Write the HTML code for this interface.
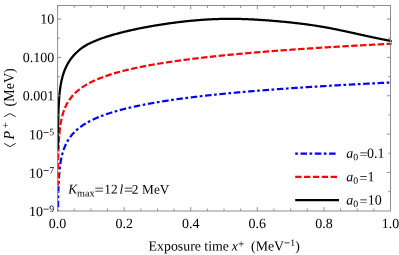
<!DOCTYPE html>
<html><head><meta charset="utf-8"><style>
html,body{margin:0;padding:0;background:#fff;}
svg{display:block}
text{font-family:"Liberation Serif",serif;fill:#000;}
.i{font-style:italic}
</style></head><body>
<svg width="399" height="255" viewBox="0 0 399 255">
<rect width="399" height="255" fill="#fff"/>
<defs><clipPath id="c"><rect x="56.6" y="5.5" width="335.09999999999997" height="205.5"/></clipPath></defs>
<g clip-path="url(#c)" fill="none" stroke-linejoin="round"><g transform="translate(0.3,0)">
<path d="M57.74,211.46 L57.75,210.86 L57.75,210.27 L57.76,209.67 L57.76,209.07 L57.77,208.48 L57.77,207.88 L57.78,207.28 L57.79,206.69 L57.79,206.09 L57.80,205.50 L57.81,204.90 L57.82,204.30 L57.82,203.71 L57.83,203.11 L57.84,202.51 L57.85,201.92 L57.86,201.32 L57.87,200.73 L57.88,200.13 L57.89,199.53 L57.90,198.94 L57.91,198.34 L57.92,197.74 L57.93,197.15 L57.94,196.55 L57.96,195.96 L57.97,195.36 L57.98,194.76 L58.00,194.17 L58.01,193.57 L58.03,192.97 L58.04,192.38 L58.06,191.78 L58.08,191.19 L58.09,190.59 L58.11,189.99 L58.13,189.40 L58.15,188.80 L58.17,188.21 L58.19,187.61 L58.21,187.01 L58.23,186.42 L58.26,185.82 L58.28,185.22 L58.31,184.63 L58.33,184.03 L58.36,183.44 L58.39,182.84 L58.41,182.24 L58.44,181.65 L58.47,181.05 L58.51,180.45 L58.54,179.86 L58.57,179.26 L58.61,178.67 L58.65,178.07 L58.68,177.47 L58.72,176.88 L58.77,176.28 L58.81,175.68 L58.85,175.09 L58.90,174.49 L58.94,173.90 L58.99,173.30 L59.04,172.70 L59.10,172.11 L59.15,171.51 L59.21,170.91 L59.27,170.32 L59.33,169.72 L59.39,169.13 L59.46,168.53 L59.52,167.93 L59.59,167.34 L59.67,166.74 L59.74,166.14 L59.82,165.55 L59.90,164.95 L59.98,164.36 L60.07,163.76 L60.16,163.16 L60.25,162.57 L60.35,161.97 L60.45,161.37 L60.56,160.78 L60.66,160.18 L60.78,159.59 L60.89,158.99 L61.01,158.39 L61.14,157.80 L61.26,157.20 L61.40,156.60 L61.54,156.01 L61.68,155.41 L61.83,154.82 L61.98,154.22 L62.14,153.62 L62.31,153.03 L62.48,152.43 L62.66,151.83 L62.84,151.24 L63.03,150.64 L63.23,150.05 L63.44,149.45 L63.65,148.85 L63.87,148.26 L64.10,147.66 L64.34,147.06 L64.58,146.47 L64.84,145.87 L65.10,145.28 L65.37,144.68 L65.66,144.08 L65.95,143.49 L66.25,142.89 L66.57,142.29 L66.90,141.70 L67.24,141.10 L67.59,140.51 L68.40,139.20 L69.21,137.99 L70.03,136.87 L70.84,135.81 L71.65,134.82 L72.47,133.88 L73.28,133.00 L74.09,132.15 L74.90,131.35 L75.72,130.59 L76.53,129.86 L77.34,129.16 L78.16,128.49 L78.97,127.84 L79.78,127.22 L80.60,126.62 L81.41,126.04 L82.22,125.48 L83.04,124.94 L83.85,124.42 L84.66,123.91 L85.47,123.41 L86.29,122.94 L87.10,122.47 L87.91,122.02 L88.73,121.58 L89.54,121.15 L90.35,120.73 L91.17,120.32 L91.98,119.92 L92.79,119.53 L93.60,119.15 L94.42,118.78 L95.23,118.42 L96.04,118.06 L96.86,117.71 L97.67,117.37 L98.48,117.04 L99.30,116.71 L100.11,116.39 L100.92,116.07 L101.74,115.76 L102.55,115.46 L103.36,115.16 L104.17,114.87 L104.99,114.58 L105.80,114.30 L106.61,114.02 L107.43,113.74 L108.24,113.47 L109.05,113.21 L109.87,112.95 L110.68,112.69 L111.49,112.44 L112.31,112.19 L113.12,111.94 L113.93,111.70 L114.74,111.46 L115.56,111.23 L116.37,110.99 L117.18,110.77 L118.00,110.54 L118.81,110.32 L119.62,110.10 L120.44,109.88 L121.25,109.67 L122.06,109.46 L122.88,109.25 L123.69,109.04 L124.50,108.84 L125.31,108.64 L126.13,108.44 L126.94,108.24 L127.75,108.05 L128.57,107.85 L129.38,107.66 L130.19,107.48 L131.01,107.29 L131.82,107.11 L132.63,106.93 L133.44,106.75 L134.26,106.57 L135.07,106.39 L135.88,106.22 L136.70,106.05 L137.51,105.88 L138.32,105.71 L139.14,105.54 L139.95,105.38 L140.76,105.21 L141.58,105.05 L142.39,104.89 L143.20,104.73 L144.01,104.58 L144.83,104.42 L145.64,104.26 L146.45,104.11 L147.27,103.96 L148.08,103.81 L148.89,103.66 L149.71,103.51 L150.52,103.37 L151.33,103.22 L152.15,103.08 L152.96,102.94 L153.77,102.79 L154.58,102.65 L155.40,102.51 L156.21,102.38 L157.02,102.24 L157.84,102.10 L158.65,101.97 L159.46,101.84 L160.28,101.70 L161.09,101.57 L161.90,101.44 L162.72,101.31 L163.53,101.19 L164.34,101.06 L165.15,100.93 L165.97,100.81 L166.78,100.68 L167.59,100.56 L168.41,100.44 L169.22,100.31 L170.03,100.19 L170.85,100.07 L171.66,99.95 L172.47,99.84 L173.28,99.72 L174.10,99.60 L174.91,99.49 L175.72,99.37 L176.54,99.26 L177.35,99.14 L178.16,99.03 L178.98,98.92 L179.79,98.81 L180.60,98.70 L181.42,98.59 L182.23,98.48 L183.04,98.37 L183.85,98.26 L184.67,98.16 L185.48,98.05 L186.29,97.94 L187.11,97.84 L187.92,97.73 L188.73,97.63 L189.55,97.53 L190.36,97.43 L191.17,97.32 L191.99,97.22 L192.80,97.12 L193.61,97.02 L194.42,96.92 L195.24,96.82 L196.05,96.73 L196.86,96.63 L197.68,96.53 L198.49,96.44 L199.30,96.34 L200.12,96.24 L200.93,96.15 L201.74,96.06 L202.56,95.96 L203.37,95.87 L204.18,95.78 L204.99,95.68 L205.81,95.59 L206.62,95.50 L207.43,95.41 L208.25,95.32 L209.06,95.23 L209.87,95.15 L210.69,95.06 L211.50,94.97 L212.31,94.89 L213.12,94.80 L213.94,94.72 L214.75,94.63 L215.56,94.55 L216.38,94.46 L217.19,94.38 L218.00,94.30 L218.82,94.22 L219.63,94.13 L220.44,94.05 L221.26,93.97 L222.07,93.89 L222.88,93.81 L223.69,93.73 L224.51,93.65 L225.32,93.57 L226.13,93.49 L226.95,93.41 L227.76,93.34 L228.57,93.26 L229.39,93.18 L230.20,93.10 L231.01,93.03 L231.83,92.95 L232.64,92.88 L233.45,92.80 L234.26,92.72 L235.08,92.65 L235.89,92.58 L236.70,92.50 L237.52,92.43 L238.33,92.35 L239.14,92.28 L239.96,92.21 L240.77,92.14 L241.58,92.06 L242.39,91.99 L243.21,91.92 L244.02,91.85 L244.83,91.78 L245.65,91.71 L246.46,91.64 L247.27,91.57 L248.09,91.50 L248.90,91.43 L249.71,91.36 L250.53,91.29 L251.34,91.22 L252.15,91.16 L252.96,91.09 L253.78,91.02 L254.59,90.95 L255.40,90.89 L256.22,90.82 L257.03,90.75 L257.84,90.69 L258.66,90.62 L259.47,90.56 L260.28,90.49 L261.10,90.43 L261.91,90.36 L262.72,90.30 L263.53,90.23 L264.35,90.17 L265.16,90.11 L265.97,90.04 L266.79,89.98 L267.60,89.92 L268.41,89.85 L269.23,89.79 L270.04,89.73 L270.85,89.67 L271.67,89.61 L272.48,89.54 L273.29,89.48 L274.10,89.42 L274.92,89.36 L275.73,89.30 L276.54,89.24 L277.36,89.18 L278.17,89.12 L278.98,89.06 L279.80,89.00 L280.61,88.94 L281.42,88.88 L282.23,88.83 L283.05,88.77 L283.86,88.71 L284.67,88.65 L285.49,88.59 L286.30,88.54 L287.11,88.48 L287.93,88.42 L288.74,88.36 L289.55,88.31 L290.37,88.25 L291.18,88.19 L291.99,88.14 L292.80,88.08 L293.62,88.03 L294.43,87.97 L295.24,87.92 L296.06,87.86 L296.87,87.81 L297.68,87.75 L298.50,87.70 L299.31,87.64 L300.12,87.59 L300.94,87.53 L301.75,87.48 L302.56,87.43 L303.37,87.37 L304.19,87.32 L305.00,87.27 L305.81,87.21 L306.63,87.16 L307.44,87.11 L308.25,87.06 L309.07,87.00 L309.88,86.95 L310.69,86.90 L311.51,86.85 L312.32,86.80 L313.13,86.74 L313.94,86.69 L314.76,86.64 L315.57,86.59 L316.38,86.54 L317.20,86.49 L318.01,86.44 L318.82,86.39 L319.64,86.34 L320.45,86.29 L321.26,86.24 L322.07,86.19 L322.89,86.14 L323.70,86.09 L324.51,86.04 L325.33,85.99 L326.14,85.95 L326.95,85.90 L327.77,85.85 L328.58,85.80 L329.39,85.75 L330.21,85.70 L331.02,85.66 L331.83,85.61 L332.64,85.56 L333.46,85.51 L334.27,85.47 L335.08,85.42 L335.90,85.37 L336.71,85.32 L337.52,85.28 L338.34,85.23 L339.15,85.19 L339.96,85.14 L340.78,85.09 L341.59,85.05 L342.40,85.00 L343.21,84.95 L344.03,84.91 L344.84,84.86 L345.65,84.82 L346.47,84.77 L347.28,84.73 L348.09,84.68 L348.91,84.64 L349.72,84.59 L350.53,84.55 L351.35,84.50 L352.16,84.46 L352.97,84.42 L353.78,84.37 L354.60,84.33 L355.41,84.28 L356.22,84.24 L357.04,84.20 L357.85,84.15 L358.66,84.11 L359.48,84.07 L360.29,84.02 L361.10,83.98 L361.91,83.94 L362.73,83.90 L363.54,83.85 L364.35,83.81 L365.17,83.77 L365.98,83.73 L366.79,83.68 L367.61,83.64 L368.42,83.60 L369.23,83.56 L370.05,83.52 L370.86,83.47 L371.67,83.43 L372.48,83.39 L373.30,83.35 L374.11,83.31 L374.92,83.27 L375.74,83.22 L376.55,83.18 L377.36,83.14 L378.18,83.10 L378.99,83.05 L379.80,83.01 L380.62,82.97 L381.43,82.93 L382.24,82.89 L383.05,82.85 L383.87,82.80 L384.68,82.76 L385.49,82.72 L386.31,82.68 L387.12,82.64 L387.93,82.60 L388.75,82.56 L389.56,82.52 L390.37,82.47 L391.18,82.43 L392.00,82.39" stroke="#0000ff" stroke-width="2.2" stroke-dasharray="2.7 2.65 6.55 2.52" stroke-dashoffset="1.1"/>
<path d="M57.67,185.58 L57.67,184.88 L57.67,184.18 L57.68,183.48 L57.68,182.78 L57.68,182.07 L57.69,181.37 L57.69,180.67 L57.69,179.97 L57.70,179.27 L57.70,178.57 L57.71,177.87 L57.71,177.17 L57.72,176.47 L57.72,175.77 L57.73,175.06 L57.73,174.36 L57.74,173.66 L57.74,172.96 L57.75,172.26 L57.75,171.56 L57.76,170.86 L57.77,170.16 L57.78,169.46 L57.78,168.76 L57.79,168.06 L57.80,167.35 L57.81,166.65 L57.82,165.95 L57.83,165.25 L57.84,164.55 L57.85,163.85 L57.86,163.15 L57.87,162.45 L57.88,161.75 L57.89,161.05 L57.90,160.34 L57.92,159.64 L57.93,158.94 L57.94,158.24 L57.96,157.54 L57.97,156.84 L57.99,156.14 L58.01,155.44 L58.02,154.74 L58.04,154.04 L58.06,153.34 L58.08,152.63 L58.10,151.93 L58.12,151.23 L58.15,150.53 L58.17,149.83 L58.19,149.13 L58.22,148.43 L58.25,147.73 L58.28,147.03 L58.30,146.33 L58.33,145.62 L58.37,144.92 L58.40,144.22 L58.43,143.52 L58.47,142.82 L58.51,142.12 L58.55,141.42 L58.59,140.72 L58.63,140.02 L58.67,139.32 L58.72,138.62 L58.77,137.91 L58.82,137.21 L58.87,136.51 L58.92,135.81 L58.98,135.11 L59.04,134.41 L59.10,133.71 L59.17,133.01 L59.23,132.31 L59.30,131.61 L59.38,130.90 L59.45,130.20 L59.53,129.50 L59.62,128.80 L59.70,128.10 L59.79,127.40 L59.89,126.70 L59.99,126.00 L60.09,125.30 L60.20,124.60 L60.31,123.90 L60.42,123.19 L60.55,122.49 L60.67,121.79 L60.80,121.09 L60.94,120.39 L61.09,119.69 L61.24,118.99 L61.39,118.29 L61.56,117.59 L61.73,116.89 L61.90,116.18 L62.09,115.48 L62.28,114.78 L62.48,114.08 L62.69,113.38 L62.91,112.68 L63.14,111.98 L63.38,111.28 L63.63,110.58 L63.89,109.88 L64.16,109.18 L64.44,108.47 L64.73,107.77 L65.04,107.07 L65.36,106.37 L65.69,105.67 L66.04,104.97 L66.40,104.27 L66.78,103.57 L67.18,102.87 L67.59,102.17 L68.40,100.86 L69.21,99.65 L70.03,98.53 L70.84,97.47 L71.65,96.48 L72.47,95.54 L73.28,94.66 L74.09,93.81 L74.90,93.01 L75.72,92.25 L76.53,91.52 L77.34,90.82 L78.16,90.15 L78.97,89.50 L79.78,88.88 L80.60,88.28 L81.41,87.70 L82.22,87.14 L83.04,86.60 L83.85,86.08 L84.66,85.57 L85.47,85.07 L86.29,84.60 L87.10,84.13 L87.91,83.68 L88.73,83.24 L89.54,82.81 L90.35,82.39 L91.17,81.98 L91.98,81.58 L92.79,81.19 L93.60,80.81 L94.42,80.44 L95.23,80.08 L96.04,79.72 L96.86,79.37 L97.67,79.03 L98.48,78.70 L99.30,78.37 L100.11,78.05 L100.92,77.73 L101.74,77.42 L102.55,77.12 L103.36,76.82 L104.17,76.53 L104.99,76.24 L105.80,75.96 L106.61,75.68 L107.43,75.40 L108.24,75.13 L109.05,74.87 L109.87,74.61 L110.68,74.35 L111.49,74.10 L112.31,73.85 L113.12,73.60 L113.93,73.36 L114.74,73.12 L115.56,72.89 L116.37,72.65 L117.18,72.43 L118.00,72.20 L118.81,71.98 L119.62,71.76 L120.44,71.54 L121.25,71.33 L122.06,71.12 L122.88,70.91 L123.69,70.70 L124.50,70.50 L125.31,70.30 L126.13,70.10 L126.94,69.90 L127.75,69.71 L128.57,69.51 L129.38,69.32 L130.19,69.14 L131.01,68.95 L131.82,68.77 L132.63,68.59 L133.44,68.41 L134.26,68.23 L135.07,68.05 L135.88,67.88 L136.70,67.71 L137.51,67.54 L138.32,67.37 L139.14,67.20 L139.95,67.04 L140.76,66.87 L141.58,66.71 L142.39,66.55 L143.20,66.39 L144.01,66.24 L144.83,66.08 L145.64,65.92 L146.45,65.77 L147.27,65.62 L148.08,65.47 L148.89,65.32 L149.71,65.17 L150.52,65.03 L151.33,64.88 L152.15,64.74 L152.96,64.60 L153.77,64.45 L154.58,64.31 L155.40,64.17 L156.21,64.04 L157.02,63.90 L157.84,63.76 L158.65,63.63 L159.46,63.50 L160.28,63.36 L161.09,63.23 L161.90,63.10 L162.72,62.97 L163.53,62.85 L164.34,62.72 L165.15,62.59 L165.97,62.47 L166.78,62.34 L167.59,62.22 L168.41,62.10 L169.22,61.97 L170.03,61.85 L170.85,61.73 L171.66,61.61 L172.47,61.50 L173.28,61.38 L174.10,61.26 L174.91,61.15 L175.72,61.03 L176.54,60.92 L177.35,60.80 L178.16,60.69 L178.98,60.58 L179.79,60.47 L180.60,60.36 L181.42,60.25 L182.23,60.14 L183.04,60.03 L183.85,59.92 L184.67,59.82 L185.48,59.71 L186.29,59.60 L187.11,59.50 L187.92,59.39 L188.73,59.29 L189.55,59.19 L190.36,59.09 L191.17,58.98 L191.99,58.88 L192.80,58.78 L193.61,58.68 L194.42,58.58 L195.24,58.48 L196.05,58.39 L196.86,58.29 L197.68,58.19 L198.49,58.10 L199.30,58.00 L200.12,57.90 L200.93,57.81 L201.74,57.72 L202.56,57.62 L203.37,57.53 L204.18,57.44 L204.99,57.34 L205.81,57.25 L206.62,57.16 L207.43,57.07 L208.25,56.98 L209.06,56.89 L209.87,56.80 L210.69,56.71 L211.50,56.63 L212.31,56.54 L213.12,56.45 L213.94,56.36 L214.75,56.28 L215.56,56.19 L216.38,56.11 L217.19,56.02 L218.00,55.94 L218.82,55.85 L219.63,55.77 L220.44,55.68 L221.26,55.60 L222.07,55.52 L222.88,55.44 L223.69,55.36 L224.51,55.27 L225.32,55.19 L226.13,55.11 L226.95,55.03 L227.76,54.95 L228.57,54.87 L229.39,54.79 L230.20,54.72 L231.01,54.64 L231.83,54.56 L232.64,54.48 L233.45,54.41 L234.26,54.33 L235.08,54.25 L235.89,54.18 L236.70,54.10 L237.52,54.02 L238.33,53.95 L239.14,53.87 L239.96,53.80 L240.77,53.73 L241.58,53.65 L242.39,53.58 L243.21,53.51 L244.02,53.43 L244.83,53.36 L245.65,53.29 L246.46,53.22 L247.27,53.15 L248.09,53.07 L248.90,53.00 L249.71,52.93 L250.53,52.86 L251.34,52.79 L252.15,52.72 L252.96,52.65 L253.78,52.58 L254.59,52.51 L255.40,52.45 L256.22,52.38 L257.03,52.31 L257.84,52.24 L258.66,52.17 L259.47,52.11 L260.28,52.04 L261.10,51.97 L261.91,51.91 L262.72,51.84 L263.53,51.78 L264.35,51.71 L265.16,51.64 L265.97,51.58 L266.79,51.51 L267.60,51.45 L268.41,51.39 L269.23,51.32 L270.04,51.26 L270.85,51.19 L271.67,51.13 L272.48,51.07 L273.29,51.00 L274.10,50.94 L274.92,50.88 L275.73,50.82 L276.54,50.76 L277.36,50.69 L278.17,50.63 L278.98,50.57 L279.80,50.51 L280.61,50.45 L281.42,50.39 L282.23,50.33 L283.05,50.27 L283.86,50.21 L284.67,50.15 L285.49,50.09 L286.30,50.03 L287.11,49.97 L287.93,49.91 L288.74,49.85 L289.55,49.79 L290.37,49.74 L291.18,49.68 L291.99,49.62 L292.80,49.56 L293.62,49.51 L294.43,49.45 L295.24,49.39 L296.06,49.33 L296.87,49.28 L297.68,49.22 L298.50,49.16 L299.31,49.11 L300.12,49.05 L300.94,49.00 L301.75,48.94 L302.56,48.89 L303.37,48.83 L304.19,48.78 L305.00,48.72 L305.81,48.67 L306.63,48.61 L307.44,48.56 L308.25,48.50 L309.07,48.45 L309.88,48.40 L310.69,48.34 L311.51,48.29 L312.32,48.24 L313.13,48.18 L313.94,48.13 L314.76,48.08 L315.57,48.02 L316.38,47.97 L317.20,47.92 L318.01,47.87 L318.82,47.82 L319.64,47.76 L320.45,47.71 L321.26,47.66 L322.07,47.61 L322.89,47.56 L323.70,47.51 L324.51,47.46 L325.33,47.41 L326.14,47.36 L326.95,47.31 L327.77,47.26 L328.58,47.21 L329.39,47.16 L330.21,47.11 L331.02,47.06 L331.83,47.01 L332.64,46.96 L333.46,46.91 L334.27,46.86 L335.08,46.81 L335.90,46.76 L336.71,46.71 L337.52,46.66 L338.34,46.62 L339.15,46.57 L339.96,46.52 L340.78,46.47 L341.59,46.42 L342.40,46.38 L343.21,46.33 L344.03,46.28 L344.84,46.23 L345.65,46.19 L346.47,46.14 L347.28,46.09 L348.09,46.05 L348.91,46.00 L349.72,45.95 L350.53,45.91 L351.35,45.86 L352.16,45.82 L352.97,45.77 L353.78,45.72 L354.60,45.68 L355.41,45.63 L356.22,45.59 L357.04,45.54 L357.85,45.50 L358.66,45.45 L359.48,45.41 L360.29,45.36 L361.10,45.32 L361.91,45.27 L362.73,45.23 L363.54,45.18 L364.35,45.14 L365.17,45.10 L365.98,45.05 L366.79,45.01 L367.61,44.96 L368.42,44.92 L369.23,44.88 L370.05,44.83 L370.86,44.79 L371.67,44.75 L372.48,44.70 L373.30,44.66 L374.11,44.62 L374.92,44.58 L375.74,44.53 L376.55,44.49 L377.36,44.45 L378.18,44.41 L378.99,44.36 L379.80,44.32 L380.62,44.28 L381.43,44.24 L382.24,44.20 L383.05,44.16 L383.87,44.11 L384.68,44.07 L385.49,44.03 L386.31,43.99 L387.12,43.95 L387.93,43.91 L388.75,43.87 L389.56,43.83 L390.37,43.78 L391.18,43.74 L392.00,43.70" stroke="#ff0000" stroke-width="2.2" stroke-dasharray="6.4 2.46" stroke-dashoffset="1.35"/>
<path d="M57.66,149.15 L57.66,148.43 L57.66,147.71 L57.67,147.00 L57.67,146.28 L57.67,145.56 L57.68,144.85 L57.68,144.13 L57.68,143.41 L57.69,142.70 L57.69,141.98 L57.70,141.26 L57.70,140.54 L57.70,139.83 L57.71,139.11 L57.71,138.39 L57.72,137.68 L57.72,136.96 L57.73,136.24 L57.73,135.53 L57.74,134.81 L57.75,134.09 L57.75,133.38 L57.76,132.66 L57.77,131.94 L57.77,131.23 L57.78,130.51 L57.79,129.79 L57.80,129.07 L57.81,128.36 L57.82,127.64 L57.83,126.92 L57.84,126.21 L57.85,125.49 L57.86,124.77 L57.87,124.06 L57.88,123.34 L57.89,122.62 L57.91,121.91 L57.92,121.19 L57.93,120.47 L57.95,119.76 L57.96,119.04 L57.98,118.32 L58.00,117.61 L58.01,116.89 L58.03,116.17 L58.05,115.46 L58.07,114.74 L58.09,114.02 L58.11,113.31 L58.13,112.59 L58.16,111.88 L58.18,111.16 L58.21,110.44 L58.23,109.73 L58.26,109.01 L58.29,108.29 L58.32,107.58 L58.35,106.86 L58.39,106.14 L58.42,105.43 L58.46,104.71 L58.50,104.00 L58.53,103.28 L58.58,102.56 L58.62,101.85 L58.66,101.13 L58.71,100.42 L58.76,99.70 L58.81,98.98 L58.86,98.27 L58.92,97.55 L58.98,96.84 L59.04,96.12 L59.10,95.40 L59.17,94.69 L59.24,93.97 L59.31,93.26 L59.38,92.54 L59.46,91.82 L59.54,91.11 L59.63,90.39 L59.72,89.68 L59.81,88.96 L59.91,88.24 L60.01,87.53 L60.12,86.81 L60.23,86.10 L60.34,85.38 L60.46,84.66 L60.59,83.95 L60.72,83.23 L60.86,82.51 L61.00,81.79 L61.15,81.08 L61.31,80.36 L61.47,79.64 L61.64,78.92 L61.82,78.20 L62.01,77.48 L62.20,76.76 L62.40,76.04 L62.61,75.31 L62.83,74.59 L63.07,73.86 L63.31,73.13 L63.56,72.41 L63.82,71.67 L64.09,70.94 L64.38,70.21 L64.68,69.47 L64.99,68.73 L65.31,67.98 L65.65,67.24 L66.01,66.49 L66.38,65.73 L66.76,64.98 L67.17,64.22 L67.59,63.47 L68.40,62.09 L69.21,60.81 L70.03,59.63 L70.84,58.52 L71.65,57.48 L72.47,56.49 L73.28,55.56 L74.09,54.67 L74.90,53.82 L75.72,53.00 L76.53,52.21 L77.34,51.45 L78.16,50.72 L78.97,50.02 L79.78,49.35 L80.60,48.71 L81.41,48.10 L82.22,47.52 L83.04,46.96 L83.85,46.44 L84.66,45.93 L85.47,45.45 L86.29,44.99 L87.10,44.54 L87.91,44.11 L88.73,43.70 L89.54,43.30 L90.35,42.91 L91.17,42.53 L91.98,42.16 L92.79,41.80 L93.60,41.44 L94.42,41.10 L95.23,40.76 L96.04,40.43 L96.86,40.11 L97.67,39.79 L98.48,39.48 L99.30,39.17 L100.11,38.87 L100.92,38.57 L101.74,38.28 L102.55,38.00 L103.36,37.72 L104.17,37.44 L104.99,37.17 L105.80,36.90 L106.61,36.64 L107.43,36.38 L108.24,36.13 L109.05,35.88 L109.87,35.63 L110.68,35.38 L111.49,35.14 L112.31,34.90 L113.12,34.67 L113.93,34.44 L114.74,34.21 L115.56,33.99 L116.37,33.76 L117.18,33.54 L118.00,33.33 L118.81,33.11 L119.62,32.90 L120.44,32.69 L121.25,32.48 L122.06,32.28 L122.88,32.07 L123.69,31.87 L124.50,31.68 L125.31,31.48 L126.13,31.29 L126.94,31.09 L127.75,30.90 L128.57,30.72 L129.38,30.53 L130.19,30.35 L131.01,30.16 L131.82,29.98 L132.63,29.80 L133.44,29.63 L134.26,29.45 L135.07,29.28 L135.88,29.11 L136.70,28.94 L137.51,28.77 L138.32,28.60 L139.14,28.44 L139.95,28.27 L140.76,28.11 L141.58,27.95 L142.39,27.79 L143.20,27.63 L144.01,27.48 L144.83,27.32 L145.64,27.17 L146.45,27.02 L147.27,26.87 L148.08,26.72 L148.89,26.57 L149.71,26.43 L150.52,26.28 L151.33,26.14 L152.15,26.00 L152.96,25.86 L153.77,25.72 L154.58,25.58 L155.40,25.44 L156.21,25.31 L157.02,25.17 L157.84,25.04 L158.65,24.91 L159.46,24.78 L160.28,24.65 L161.09,24.52 L161.90,24.40 L162.72,24.27 L163.53,24.15 L164.34,24.03 L165.15,23.91 L165.97,23.79 L166.78,23.67 L167.59,23.55 L168.41,23.44 L169.22,23.32 L170.03,23.21 L170.85,23.10 L171.66,22.99 L172.47,22.88 L173.28,22.77 L174.10,22.66 L174.91,22.56 L175.72,22.45 L176.54,22.35 L177.35,22.25 L178.16,22.15 L178.98,22.05 L179.79,21.95 L180.60,21.86 L181.42,21.76 L182.23,21.67 L183.04,21.58 L183.85,21.49 L184.67,21.40 L185.48,21.31 L186.29,21.22 L187.11,21.14 L187.92,21.06 L188.73,20.97 L189.55,20.89 L190.36,20.81 L191.17,20.73 L191.99,20.66 L192.80,20.58 L193.61,20.51 L194.42,20.44 L195.24,20.37 L196.05,20.30 L196.86,20.23 L197.68,20.16 L198.49,20.10 L199.30,20.04 L200.12,19.97 L200.93,19.91 L201.74,19.85 L202.56,19.80 L203.37,19.74 L204.18,19.69 L204.99,19.64 L205.81,19.58 L206.62,19.54 L207.43,19.49 L208.25,19.44 L209.06,19.40 L209.87,19.35 L210.69,19.31 L211.50,19.27 L212.31,19.23 L213.12,19.20 L213.94,19.16 L214.75,19.13 L215.56,19.10 L216.38,19.07 L217.19,19.04 L218.00,19.02 L218.82,18.99 L219.63,18.97 L220.44,18.95 L221.26,18.93 L222.07,18.91 L222.88,18.90 L223.69,18.88 L224.51,18.87 L225.32,18.86 L226.13,18.85 L226.95,18.85 L227.76,18.84 L228.57,18.84 L229.39,18.84 L230.20,18.84 L231.01,18.84 L231.83,18.84 L232.64,18.85 L233.45,18.86 L234.26,18.87 L235.08,18.88 L235.89,18.89 L236.70,18.90 L237.52,18.92 L238.33,18.93 L239.14,18.95 L239.96,18.97 L240.77,18.99 L241.58,19.02 L242.39,19.04 L243.21,19.07 L244.02,19.10 L244.83,19.12 L245.65,19.15 L246.46,19.19 L247.27,19.22 L248.09,19.25 L248.90,19.29 L249.71,19.33 L250.53,19.36 L251.34,19.40 L252.15,19.44 L252.96,19.49 L253.78,19.53 L254.59,19.57 L255.40,19.62 L256.22,19.67 L257.03,19.71 L257.84,19.76 L258.66,19.81 L259.47,19.86 L260.28,19.92 L261.10,19.97 L261.91,20.02 L262.72,20.08 L263.53,20.13 L264.35,20.19 L265.16,20.25 L265.97,20.31 L266.79,20.37 L267.60,20.43 L268.41,20.49 L269.23,20.56 L270.04,20.62 L270.85,20.68 L271.67,20.75 L272.48,20.82 L273.29,20.88 L274.10,20.95 L274.92,21.02 L275.73,21.09 L276.54,21.16 L277.36,21.23 L278.17,21.30 L278.98,21.38 L279.80,21.45 L280.61,21.52 L281.42,21.60 L282.23,21.67 L283.05,21.75 L283.86,21.83 L284.67,21.91 L285.49,21.99 L286.30,22.07 L287.11,22.15 L287.93,22.23 L288.74,22.32 L289.55,22.40 L290.37,22.49 L291.18,22.57 L291.99,22.66 L292.80,22.75 L293.62,22.84 L294.43,22.93 L295.24,23.02 L296.06,23.11 L296.87,23.21 L297.68,23.30 L298.50,23.40 L299.31,23.50 L300.12,23.60 L300.94,23.70 L301.75,23.80 L302.56,23.90 L303.37,24.01 L304.19,24.11 L305.00,24.22 L305.81,24.33 L306.63,24.44 L307.44,24.55 L308.25,24.66 L309.07,24.77 L309.88,24.89 L310.69,25.00 L311.51,25.12 L312.32,25.24 L313.13,25.36 L313.94,25.49 L314.76,25.61 L315.57,25.73 L316.38,25.86 L317.20,25.99 L318.01,26.12 L318.82,26.25 L319.64,26.38 L320.45,26.52 L321.26,26.66 L322.07,26.79 L322.89,26.93 L323.70,27.07 L324.51,27.22 L325.33,27.36 L326.14,27.51 L326.95,27.66 L327.77,27.81 L328.58,27.96 L329.39,28.11 L330.21,28.27 L331.02,28.42 L331.83,28.58 L332.64,28.74 L333.46,28.90 L334.27,29.06 L335.08,29.22 L335.90,29.39 L336.71,29.55 L337.52,29.72 L338.34,29.89 L339.15,30.06 L339.96,30.23 L340.78,30.40 L341.59,30.57 L342.40,30.74 L343.21,30.91 L344.03,31.09 L344.84,31.26 L345.65,31.44 L346.47,31.61 L347.28,31.79 L348.09,31.97 L348.91,32.14 L349.72,32.32 L350.53,32.50 L351.35,32.68 L352.16,32.86 L352.97,33.04 L353.78,33.22 L354.60,33.40 L355.41,33.58 L356.22,33.76 L357.04,33.94 L357.85,34.12 L358.66,34.30 L359.48,34.48 L360.29,34.66 L361.10,34.84 L361.91,35.02 L362.73,35.20 L363.54,35.38 L364.35,35.56 L365.17,35.74 L365.98,35.92 L366.79,36.09 L367.61,36.27 L368.42,36.45 L369.23,36.62 L370.05,36.80 L370.86,36.97 L371.67,37.15 L372.48,37.32 L373.30,37.50 L374.11,37.67 L374.92,37.84 L375.74,38.01 L376.55,38.18 L377.36,38.35 L378.18,38.51 L378.99,38.68 L379.80,38.85 L380.62,39.01 L381.43,39.17 L382.24,39.33 L383.05,39.49 L383.87,39.65 L384.68,39.81 L385.49,39.97 L386.31,40.12 L387.12,40.27 L387.93,40.43 L388.75,40.58 L389.56,40.72 L390.37,40.87 L391.18,41.01 L392.00,41.16" stroke="#000" stroke-width="2.25"/>
</g></g>
<rect x="57.6" y="5.5" width="332.9" height="205.5" fill="none" stroke="#8e8e8e" stroke-width="1"/>
<path d="M57.60,211.0 v-3.8 M57.60,5.5 v3.8 M74.25,211.0 v-2.4 M74.25,5.5 v2.4 M90.89,211.0 v-2.4 M90.89,5.5 v2.4 M107.53,211.0 v-2.4 M107.53,5.5 v2.4 M124.18,211.0 v-3.8 M124.18,5.5 v3.8 M140.82,211.0 v-2.4 M140.82,5.5 v2.4 M157.47,211.0 v-2.4 M157.47,5.5 v2.4 M174.12,211.0 v-2.4 M174.12,5.5 v2.4 M190.76,211.0 v-3.8 M190.76,5.5 v3.8 M207.41,211.0 v-2.4 M207.41,5.5 v2.4 M224.05,211.0 v-2.4 M224.05,5.5 v2.4 M240.69,211.0 v-2.4 M240.69,5.5 v2.4 M257.34,211.0 v-3.8 M257.34,5.5 v3.8 M273.99,211.0 v-2.4 M273.99,5.5 v2.4 M290.63,211.0 v-2.4 M290.63,5.5 v2.4 M307.27,211.0 v-2.4 M307.27,5.5 v2.4 M323.92,211.0 v-3.8 M323.92,5.5 v3.8 M340.57,211.0 v-2.4 M340.57,5.5 v2.4 M357.21,211.0 v-2.4 M357.21,5.5 v2.4 M373.86,211.0 v-2.4 M373.86,5.5 v2.4 M390.50,211.0 v-3.8 M390.50,5.5 v3.8 M57.6,191.66 h2.2 M390.5,191.66 h-2.2 M57.6,172.48 h3.6 M390.5,172.48 h-3.6 M57.6,153.30 h2.2 M390.5,153.30 h-2.2 M57.6,134.12 h3.6 M390.5,134.12 h-3.6 M57.6,114.94 h2.2 M390.5,114.94 h-2.2 M57.6,95.76 h3.6 M390.5,95.76 h-3.6 M57.6,76.58 h2.2 M390.5,76.58 h-2.2 M57.6,57.40 h3.6 M390.5,57.40 h-3.6 M57.6,38.22 h2.2 M390.5,38.22 h-2.2 M57.6,19.04 h3.6 M390.5,19.04 h-3.6" stroke="#8e8e8e" stroke-width="1" fill="none"/>
<g style="will-change:transform" font-size="14.0">
<text x="54.20" y="23.59" text-anchor="end" transform="rotate(0.04 54.20 23.59)">10</text>
<text x="54.20" y="61.95" text-anchor="end" transform="rotate(0.04 54.20 61.95)">0.100</text>
<text x="54.20" y="100.31" text-anchor="end" transform="rotate(0.04 54.20 100.31)">0.001</text>
<text x="54.20" y="139.37" text-anchor="end" transform="rotate(0.04 54.20 139.37)">10<tspan font-size="11" dy="-3.4">−</tspan><tspan font-size="9.8" dy="-0.7">5</tspan></text>
<text x="54.20" y="177.73" text-anchor="end" transform="rotate(0.04 54.20 177.73)">10<tspan font-size="11" dy="-3.4">−</tspan><tspan font-size="9.8" dy="-0.7">7</tspan></text>
<text x="54.20" y="216.09" text-anchor="end" transform="rotate(0.04 54.20 216.09)">10<tspan font-size="11" dy="-3.4">−</tspan><tspan font-size="9.8" dy="-0.7">9</tspan></text>
<text x="57.60" y="228.00" text-anchor="middle" transform="rotate(0.04 57.60 228.00)">0.0</text>
<text x="124.18" y="228.00" text-anchor="middle" transform="rotate(0.04 124.18 228.00)">0.2</text>
<text x="190.76" y="228.00" text-anchor="middle" transform="rotate(0.04 190.76 228.00)">0.4</text>
<text x="257.34" y="228.00" text-anchor="middle" transform="rotate(0.04 257.34 228.00)">0.6</text>
<text x="323.92" y="228.00" text-anchor="middle" transform="rotate(0.04 323.92 228.00)">0.8</text>
<text x="390.50" y="228.00" text-anchor="middle" transform="rotate(0.04 390.50 228.00)">1.0</text>
<text x="148.60" y="250.40" font-size="13.85" transform="rotate(0.04 148.60 250.40)">Exposure time<tspan class="i" dx="2.9">x</tspan><tspan font-size="11" dy="-2.9">+</tspan><tspan dy="2.9" dx="6.8">(MeV</tspan><tspan font-size="11" dy="-3.9">−</tspan><tspan font-size="9.8" dy="-0.7">1</tspan><tspan dy="4.6">)</tspan></text>
<g transform="translate(13.9,147.6) rotate(-90)">
<path d="M4.2,-9.7 L0.9,-3.95 L4.2,1.8" fill="none" stroke="#000" stroke-width="0.85"/>
<text x="8.2" y="0" class="i">P</text>
<text x="19.4" y="-4.9" font-size="11">+</text>
<path d="M30.9,-9.7 L34.1,-3.95 L30.9,1.8" fill="none" stroke="#000" stroke-width="0.85"/>
<text x="41.2" y="0">(MeV)</text>
</g>
<text x="68.20" y="193.60" font-size="13.3" transform="rotate(0.04 68.20 193.60)"><tspan class="i">K</tspan><tspan font-size="10.2" dy="3">max</tspan><tspan x="94.4" y="194.5" font-size="15" textLength="9.3" lengthAdjust="spacingAndGlyphs">=</tspan><tspan x="104.3" y="193.6">12 </tspan><tspan class="i" x="119.6">l</tspan><tspan x="124.0" y="194.5" font-size="15" textLength="9.3" lengthAdjust="spacingAndGlyphs">=</tspan><tspan x="131.7" y="193.6">2 </tspan><tspan x="142.1">MeV</tspan></text>
<g fill="none">
<path d="M295.2,153.6 H337" stroke="#0000ff" stroke-width="2.2" stroke-dasharray="2.7 2.6 6.5 2.5"/>
<path d="M295.2,176.9 H337" stroke="#ff0000" stroke-width="2.2" stroke-dasharray="6.3 2.56"/>
<path d="M295.2,200.1 H339" stroke="#000" stroke-width="2.05"/>
</g>
<text x="346.20" y="157.70" transform="rotate(0.04 346.20 157.70)"><tspan class="i">a</tspan><tspan font-size="9.8" dy="2.5">0</tspan><tspan x="359.4" y="159.10">=</tspan><tspan x="367.0" y="157.7">0.1</tspan></text>
<text x="346.20" y="181.20" transform="rotate(0.04 346.20 181.20)"><tspan class="i">a</tspan><tspan font-size="9.8" dy="2.5">0</tspan><tspan x="359.4" y="182.60">=</tspan><tspan x="367.5" y="181.2">1</tspan></text>
<text x="346.20" y="204.60" transform="rotate(0.04 346.20 204.60)"><tspan class="i">a</tspan><tspan font-size="9.8" dy="2.5">0</tspan><tspan x="359.4" y="206.00">=</tspan><tspan x="367.8" y="204.6">10</tspan></text>
</g>
</svg>
</body></html>
